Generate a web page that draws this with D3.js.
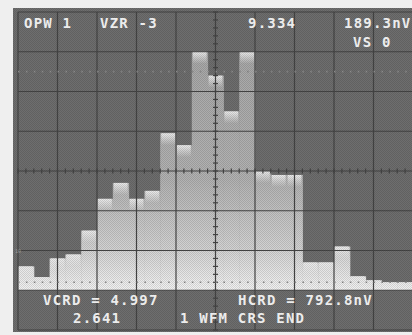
<!DOCTYPE html>
<html>
<head>
<meta charset="utf-8">
<script src="https://cdn.jsdelivr.net/npm/d3@7"></script>
<style>
  body { margin: 0; background: #efefef; }
  svg { display: block; }
</style>
</head>
<body>
<svg width="412" height="335"></svg>
<script>
// histogram counts, one per bin (10 counts per division)
const counts = [6, 3.3, 8, 9, 15, 23, 27, 23, 25, 39.5, 36.5, 60, 54, 45, 60, 30, 29, 29, 7, 7, 11, 3.5, 2.5, 2, 2];

// readouts on the scope screen
const topReadouts = ["OPW 1", "VZR -3", "9.334", "189.3nV"];
const vsReadout = "VS 0";
const cursorReadouts = ["VCRD = 4.997", "HCRD = 792.8nV"];
const statusReadouts = ["2.641", "1 WFM CRS END"];
const countLabels = ["10"];
const cursorLevels = [55, 2];   // dotted cursor lines, in counts

const svg = d3.select('svg');
const W = 412, H = 335;

// graticule geometry: 10 x 8 divisions
const gLeft = 18, gRight = 413, gTop = 12, gBottom = 330;
const gx = d3.scaleLinear().domain([0, 10]).range([gLeft, gRight]);
const gy = d3.scaleLinear().domain([0, 8]).range([gBottom, gTop]);

// histogram scales (baseline sits one division above the bottom)
const x = d3.scaleBand().domain(d3.range(counts.length)).range([gLeft, gRight]).padding(0);
const y = d3.scaleLinear().domain([0, 70]).range([gy(1), gTop]);

const defs = svg.append('defs');
defs.append('clipPath').attr('id', 'screen')
  .append('rect').attr('x', 13).attr('y', 8).attr('width', W - 13).attr('height', 324);

const body = defs.append('linearGradient').attr('id', 'barBody')
  .attr('gradientUnits', 'userSpaceOnUse')
  .attr('x1', 0).attr('y1', gTop).attr('x2', 0).attr('y2', gy(1));
body.append('stop').attr('offset', 0).attr('stop-color', '#a4a4a4');
body.append('stop').attr('offset', 0.6).attr('stop-color', '#b2b2b2');
body.append('stop').attr('offset', 0.85).attr('stop-color', '#d2d2d2');
body.append('stop').attr('offset', 1).attr('stop-color', '#f2f2f2');

const cap = defs.append('linearGradient').attr('id', 'barCap')
  .attr('x1', 0).attr('y1', 0).attr('x2', 0).attr('y2', 1);
cap.append('stop').attr('offset', 0).attr('stop-color', '#ececec');
cap.append('stop').attr('offset', 1).attr('stop-color', '#ececec').attr('stop-opacity', 0);

// halftone texture
const pat = defs.append('pattern').attr('id', 'dots')
  .attr('width', 2).attr('height', 2).attr('patternUnits', 'userSpaceOnUse');
pat.append('rect').attr('width', 1).attr('height', 1).attr('fill', '#000').attr('opacity', 0.12);
pat.append('rect').attr('x', 1).attr('y', 1).attr('width', 1).attr('height', 1).attr('fill', '#000').attr('opacity', 0.12);

// screen
svg.append('rect').attr('x', 13).attr('y', 8).attr('width', W - 13).attr('height', 324)
  .attr('fill', '#6e6e6e');

const scr = svg.append('g').attr('clip-path', 'url(#screen)');

// bars
scr.append('g').selectAll('rect')
  .data(counts)
  .enter()
  .append('rect')
  .attr('x', (d, i) => x(i))
  .attr('y', d => y(d))
  .attr('width', x.bandwidth() + 0.5)
  .attr('height', d => y(0) - y(d))
  .attr('fill', 'url(#barBody)');

scr.append('g').selectAll('rect')
  .data(counts)
  .enter()
  .append('rect')
  .attr('x', (d, i) => x(i) + 1)
  .attr('y', d => y(d))
  .attr('width', x.bandwidth() - 2)
  .attr('height', d => Math.min(12, y(0) - y(d)))
  .attr('fill', 'url(#barCap)');

// graticule
const grid = scr.append('g').attr('stroke', '#454545').attr('stroke-width', 1.2);
grid.selectAll('.v').data(d3.range(0, 11)).enter().append('line')
  .attr('x1', d => gx(d)).attr('x2', d => gx(d)).attr('y1', gTop).attr('y2', gBottom);
grid.selectAll('.h').data(d3.range(0, 9)).enter().append('line')
  .attr('y1', d => gy(d)).attr('y2', d => gy(d)).attr('x1', gLeft).attr('x2', gRight);

// minor ticks on the centre lines
grid.selectAll('.tx').data(d3.range(0, 50.01, 1)).enter().append('line')
  .attr('x1', d => gx(d / 5)).attr('x2', d => gx(d / 5))
  .attr('y1', gy(4) - 2.5).attr('y2', gy(4) + 2.5);
grid.selectAll('.ty').data(d3.range(0, 40.01, 1)).enter().append('line')
  .attr('y1', d => gy(d / 5)).attr('y2', d => gy(d / 5))
  .attr('x1', gx(5) - 2.5).attr('x2', gx(5) + 2.5);

// cursor lines (dotted)
scr.append('g').selectAll('line')
  .data(cursorLevels)
  .enter()
  .append('line')
  .attr('x1', gLeft).attr('x2', gRight)
  .attr('y1', d => y(d)).attr('y2', d => y(d))
  .attr('stroke', '#8c8c8c')
  .attr('stroke-width', 1.6)
  .attr('stroke-dasharray', '1.6,6.3');

svg.append('rect').attr('x', 13).attr('y', 8).attr('width', W - 13).attr('height', 324)
  .attr('fill', 'url(#dots)');

// readouts
const font = "'DejaVu Sans Mono', monospace";
const txt = svg.append('g')
  .attr('fill', '#ececec')
  .style('font-family', font)
  .style('font-weight', 'bold')
  .style('font-size', '14px')
  .style('letter-spacing', '1.2px');

const topX = [24, 100, 248, 344];
txt.selectAll('.top').data(topReadouts).enter().append('text')
  .attr('x', (d, i) => topX[i]).attr('y', 28).text(d => d);
txt.append('text').attr('x', 353).attr('y', 47).text(vsReadout);

const curX = [43, 238];
txt.selectAll('.cur').data(cursorReadouts).enter().append('text')
  .attr('x', (d, i) => curX[i]).attr('y', 305).text(d => d);
const statX = [73, 180];
txt.selectAll('.stat').data(statusReadouts).enter().append('text')
  .attr('x', (d, i) => statX[i]).attr('y', 323).text(d => d);

svg.append('g').selectAll('text')
  .data(countLabels)
  .enter()
  .append('text')
  .attr('x', 15)
  .attr('y', y(10) + 2)
  .attr('fill', '#9a9a9a')
  .style('font-family', font)
  .style('font-size', '5px')
  .text(d => d);
</script>
</body>
</html>
